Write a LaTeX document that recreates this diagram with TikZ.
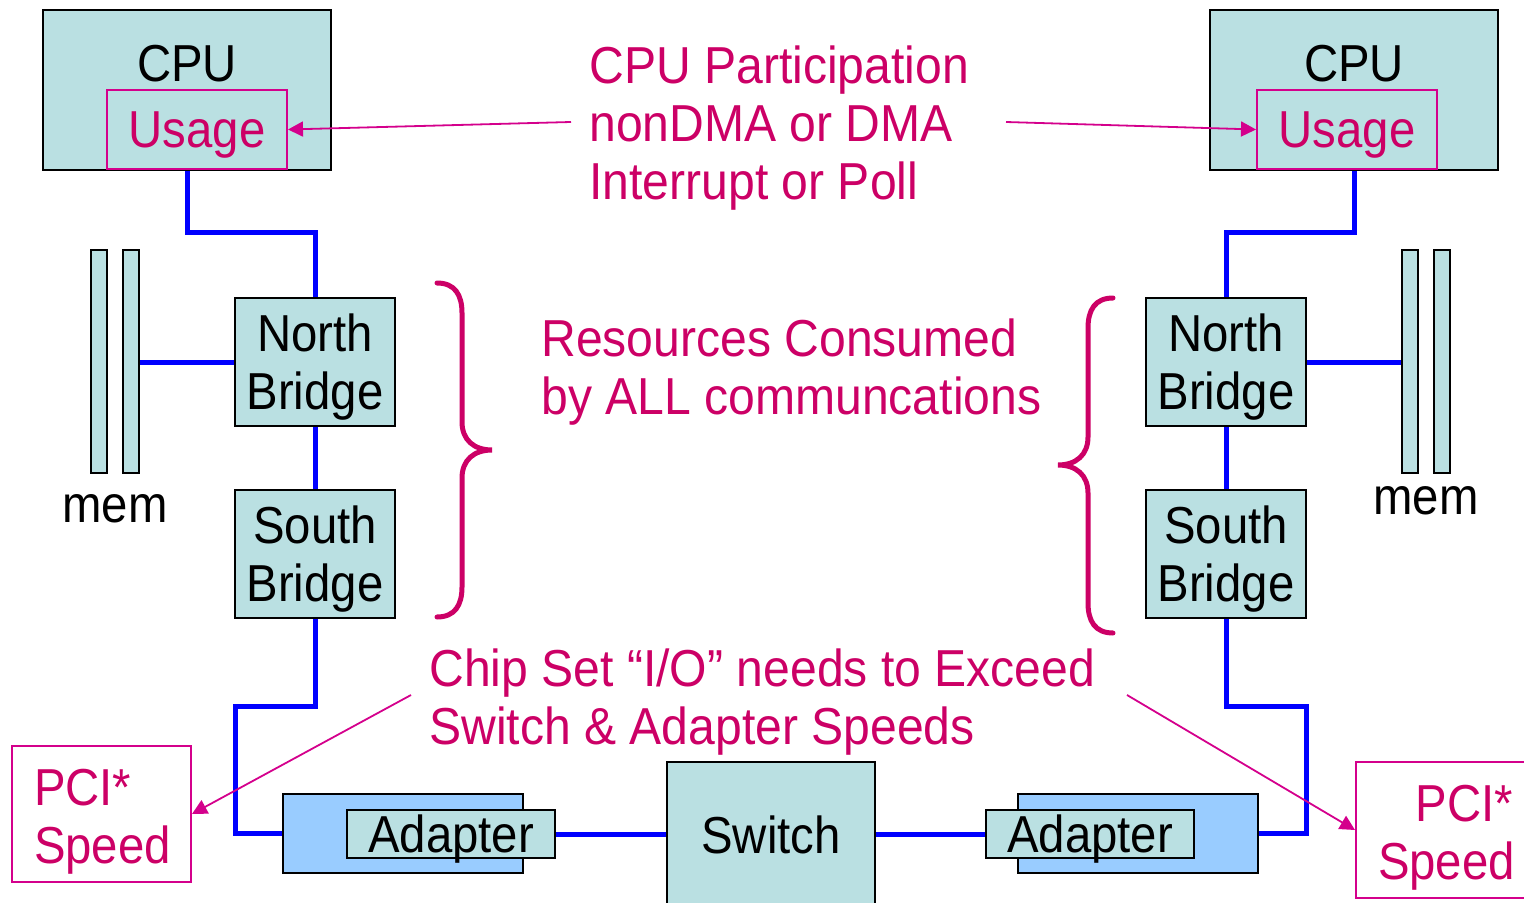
\documentclass[tikz,border=0pt]{standalone}
\usepackage{fontspec}
\setmainfont[FakeStretch=0.91]{Liberation Sans}
\newfontfamily\notefont[FakeStretch=0.925]{Liberation Sans}
\usetikzlibrary{arrows.meta}
\definecolor{chip}{HTML}{BAE0E2}
\definecolor{card}{HTML}{99CCFF}
\definecolor{note}{HTML}{CC0066}
\definecolor{noteline}{HTML}{D4008C}
\definecolor{bus}{HTML}{0000FF}

\begin{document}
\begin{tikzpicture}[x=0.5pt,y=-0.5pt,
  big/.style={font=\fontsize{26}{29}\selectfont},
  chipbox/.style={draw=black,line width=1pt,fill=chip,inner sep=0pt,big,text depth=0pt},
  cardbox/.style={draw=black,line width=1pt,fill=card,inner sep=0pt,
    minimum width=120pt,minimum height=39.5pt},
  cpubox/.style={chipbox,minimum width=144pt,minimum height=80pt},
  bridgebox/.style={chipbox,align=center,minimum width=80pt,minimum height=64pt},
  membar/.style={chipbox,minimum width=8pt,minimum height=111.5pt},
  adapterbox/.style={chipbox,minimum width=104pt,minimum height=24pt},
  usagebox/.style={draw=noteline,line width=1pt,inner sep=0pt,big,text=note,
    text depth=0pt,minimum width=90pt,minimum height=39.5pt},
  pcibox/.style={draw=noteline,line width=1pt,big,text=note,
    text height=18.5pt,text depth=27.5pt,
    inner xsep=11pt,inner ysep=0pt,text width=67.5pt,minimum height=68pt},
  notetext/.style={font=\notefont\fontsize{26}{29}\selectfont,text=note,
    align=left,anchor=north west,inner sep=0pt},
  bus/.style={draw=bus,line width=2.5pt},
  pointer/.style={draw=noteline,line width=0.9pt,-{Triangle[length=7.5pt,width=7.5pt]}},
  brace/.style={draw=note,line width=2.5pt,line cap=round}]

\useasboundingbox (0,0) rectangle (1524,903);

% ---- left host ----
\node[cpubox] (cpuL) at (187,90) {};
\node[big,anchor=base] (cpuLtxt) at (187,82) {CPU};
\node[usagebox] (usageL) at (197,129.5) {Usage};
\node[bridgebox] (nbL) at (315,362) {North\\Bridge};
\node[bridgebox] (sbL) at (315,554) {South\\Bridge};
\node[membar] (memL1) at (99,361.5) {};
\node[membar] (memL2) at (131,361.5) {};
\node[big,anchor=base] (memLtxt) at (115,522) {mem};
\node[cardbox] (cardL) at (403,833.5) {};
\node[adapterbox] (adL) at (451,834) {Adapter};

% ---- switch ----
\node[chipbox,minimum width=104pt,minimum height=73pt] (sw) at (771,835) {Switch};

% ---- right host ----
\node[cpubox] (cpuR) at (1354,90) {};
\node[big,anchor=base] (cpuRtxt) at (1354,82) {CPU};
\node[usagebox] (usageR) at (1347,129.5) {Usage};
\node[bridgebox] (nbR) at (1226,362) {North\\Bridge};
\node[bridgebox] (sbR) at (1226,554) {South\\Bridge};
\node[membar] (memR1) at (1410,361.5) {};
\node[membar] (memR2) at (1442,361.5) {};
\node[big,anchor=base] (memRtxt) at (1426,514) {mem};
\node[cardbox] (cardR) at (1137.5,833.5) {};
\node[adapterbox] (adR) at (1090,834) {Adapter};

% ---- bus wiring ----
\coordinate (jL) at (315,233);
\coordinate (kL) at (235,706);
\coordinate (jR) at (1354,233);
\coordinate (kR) at (1306,706);
\draw[bus] (cpuL.south) |- (jL) -- (nbL.north);
\draw[bus] (nbL.west) -- (memL2.east |- nbL.west);
\draw[bus] (nbL.south) -- (sbL.north);
\draw[bus] (sbL.south) |- (kL) |- (cardL.west);
\draw[bus] (adL.east) -- (adL.east -| sw.west);
\draw[bus] (sw.east |- adR.west) -- (adR.west);
\draw[bus] (cardR.east) -| (kR) -| (sbR.south);
\draw[bus] (sbR.north) -- (nbR.south);
\draw[bus] (nbR.east) -- (memR1.west |- nbR.east);
\draw[bus] (nbR.north) |- (jR) -- (cpuR.south);

% ---- PCI speed notes ----
\node[pcibox,align=left,anchor=west] (pciL) at (11,814) {PCI*\\Speed};
\node[pcibox,align=right,anchor=west] (pciR) at (1355,830) {PCI*\\Speed};

% ---- annotations ----
\node[notetext] (cpuNote) at (589,45) {CPU Participation\\nonDMA or DMA\\Interrupt or Poll};
\node[notetext] (resNote) at (541,318) {Resources Consumed\\by ALL communcations};
\node[notetext] (chipNote) at (429,648) {Chip Set “I/O” needs to Exceed\\Switch \& Adapter Speeds};

\coordinate (tailA) at (571,122);
\coordinate (tailB) at (1006,122);
\coordinate (tailC) at (411,695);
\coordinate (tailD) at (1127,695);
\draw[pointer] (tailA) -- (usageL.east);
\draw[pointer] (tailB) -- (usageR.west);
\draw[pointer] (tailC) -- (pciL.east);
\draw[pointer] (tailD) -- (pciR.west);

% ---- braces ----
\draw[brace] (437,283) .. controls (455,283) and (462,295) .. (462,313)
  -- (462,422) .. controls (462,440) and (474,450) .. (492,450)
  .. controls (474,450) and (462,460) .. (462,478)
  -- (462,587) .. controls (462,605) and (455,617) .. (437,617);
\draw[brace] (1113,298) .. controls (1095,298) and (1088,310) .. (1088,328)
  -- (1088,437) .. controls (1088,455) and (1076,465) .. (1058,465)
  .. controls (1076,465) and (1088,475) .. (1088,493)
  -- (1088,603) .. controls (1088,621) and (1095,633) .. (1113,633);
\end{tikzpicture}
\end{document}
